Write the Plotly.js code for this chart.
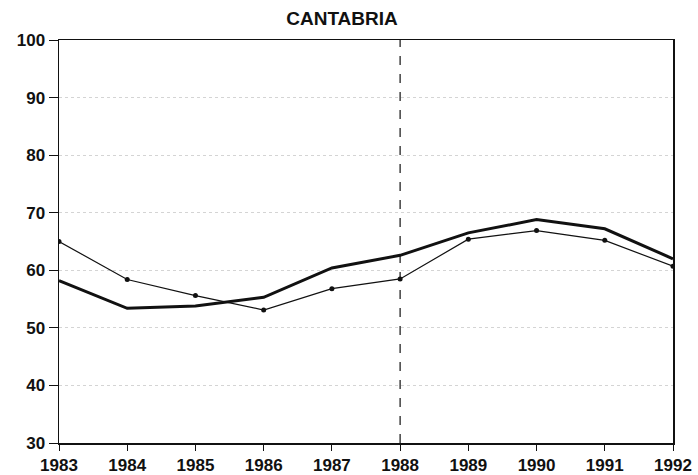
<!DOCTYPE html>
<html>
<head>
<meta charset="utf-8">
<script src="https://cdn.plot.ly/plotly-3.0.1.min.js"></script>
<style>
  html, body { margin: 0; padding: 0; background: #fff; }
  #chart { width: 698px; height: 475px; }
</style>
</head>
<body>
<div id="chart"></div>
<script>
// years on the x axis
const years = [1983, 1984, 1985, 1986, 1987, 1988, 1989, 1990, 1991, 1992];
// thick line (no markers)
const serieGruesa = [58.2, 53.4, 53.8, 55.3, 60.4, 62.6, 66.5, 68.8, 67.2, 62.0];
// thin line with dots
const serieFina = [65.0, 58.4, 55.6, 53.1, 56.8, 58.5, 65.4, 66.9, 65.2, 60.7];
const yTicks = [30, 40, 50, 60, 70, 80, 90, 100];
const lineaCorte = 1988;

const tickFont = { family: 'Liberation Sans, Arial, sans-serif', size: 17, color: '#111' };

const traces = [
    {
        x: years,
        y: serieGruesa,
        mode: 'lines',
        line: { color: '#111', width: 3 },
        hoverinfo: 'x+y'
    },
    {
        x: years,
        y: serieFina,
        mode: 'lines+markers',
        line: { color: '#111', width: 1.2 },
        marker: { color: '#111', size: 5 },
        hoverinfo: 'x+y'
    }
];

const layout = {
    width: 698,
    height: 475,
    margin: { l: 59, r: 25, t: 40, b: 32 },
    paper_bgcolor: '#fff',
    plot_bgcolor: '#fff',
    showlegend: false,
    title: {
        text: '<b>CANTABRIA</b>',
        x: 0.49,
        xanchor: 'center',
        y: 0.962,
        yanchor: 'middle',
        font: { family: 'Liberation Sans, Arial, sans-serif', size: 19, color: '#111' }
    },
    xaxis: {
        range: [1983, 1992],
        tickvals: years,
        ticktext: years.map(y => '<b>' + y + '</b>'),
        ticks: 'outside',
        ticklen: 6,
        tickwidth: 1,
        tickcolor: '#111',
        showgrid: false,
        zeroline: false,
        showline: true,
        linecolor: '#111',
        linewidth: 1.5,
        mirror: true,
        tickfont: tickFont,
        fixedrange: true
    },
    yaxis: {
        range: [30, 100],
        tickvals: yTicks,
        ticktext: yTicks.map(v => '<b>' + v + '</b>'),
        ticks: 'outside',
        ticklen: 9,
        tickwidth: 1,
        tickcolor: '#111',
        showgrid: true,
        gridcolor: '#d4d4d4',
        griddash: 'dot',
        gridwidth: 1,
        zeroline: false,
        showline: true,
        linecolor: '#111',
        linewidth: 1.5,
        mirror: true,
        tickfont: tickFont,
        fixedrange: true
    },
    shapes: [
        {
            type: 'line',
            xref: 'x',
            yref: 'paper',
            x0: lineaCorte,
            x1: lineaCorte,
            y0: 0,
            y1: 1,
            line: { color: '#111', width: 1.2, dash: 'dash' }
        }
    ]
};

Plotly.newPlot('chart', traces, layout, { displayModeBar: false, staticPlot: true });
</script>
</body>
</html>
